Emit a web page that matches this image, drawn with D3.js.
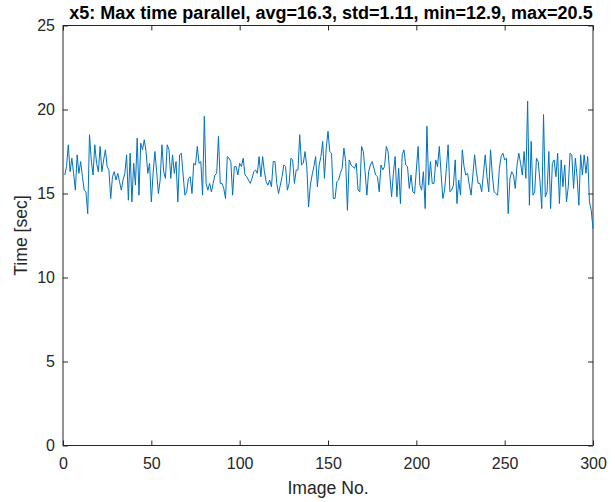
<!DOCTYPE html>
<html>
<head>
<meta charset="utf-8">
<script src="https://cdn.jsdelivr.net/npm/d3@7"></script>
<style>
  html, body { margin: 0; padding: 0; background: #fff; }
  svg { display: block; }
  text { font-family: "Liberation Sans", Arial, Helvetica, sans-serif; fill: #262626; }
</style>
</head>
<body>
<svg id="chart" width="615" height="502"></svg>
<script>
const titleText = "x5: Max time parallel, avg=16.3, std=1.11, min=12.9, max=20.5";
const xLabel = "Image No.";
const yLabel = "Time [sec]";
const xTicks = [0, 50, 100, 150, 200, 250, 300];
const yTicks = [0, 5, 10, 15, 20, 25];
const xDomain = [0, 300];
const yDomain = [0, 25];
const times = [
  16.1,16.6,17.9,16.3,17.1,16.2,15.2,17.3,16.2,16.9,
  16.0,15.2,15.1,13.8,18.5,17.0,16.1,17.9,16.8,16.3,
  17.8,16.3,17.0,17.6,16.6,16.4,14.7,16.0,16.3,15.8,
  16.2,15.7,15.2,15.8,16.2,17.3,14.6,17.4,14.5,16.8,
  15.5,18.3,14.9,18.0,17.6,18.2,17.5,16.2,16.8,14.5,
  16.2,17.5,16.3,15.0,15.8,17.9,16.3,15.9,17.9,17.6,
  15.9,17.3,16.2,16.9,14.5,17.3,17.4,16.1,14.9,15.1,
  15.9,16.0,15.0,16.8,16.7,17.8,16.8,16.9,14.9,19.6,
  15.6,15.2,15.6,15.1,15.6,16.1,16.2,18.4,15.6,15.6,
  15.3,14.7,17.2,17.1,16.9,14.9,16.6,16.6,16.1,16.8,
  16.6,17.1,16.1,16.0,15.8,15.6,15.9,16.3,16.4,16.2,
  17.2,16.0,17.2,16.3,15.7,15.5,15.8,15.4,16.9,16.9,
  15.6,15.0,15.5,16.0,16.7,16.6,15.2,15.6,17.1,17.0,
  15.6,16.4,16.4,18.5,16.7,16.8,17.5,16.6,14.2,15.5,
  16.1,16.6,17.2,15.4,16.7,17.2,18.1,15.9,17.7,18.7,
  17.5,17.4,14.7,14.7,15.7,15.8,16.2,16.5,17.7,16.9,
  14.0,17.0,16.7,16.6,16.5,16.8,15.2,15.1,17.8,17.5,
  16.3,14.9,16.3,16.7,16.9,16.5,16.1,16.0,15.1,16.7,
  16.4,16.6,17.8,17.5,16.1,14.8,16.2,17.2,14.8,16.5,
  14.4,17.3,17.6,16.7,16.6,15.3,16.1,15.1,15.0,16.4,
  17.8,15.5,15.2,16.3,14.1,19.0,15.5,16.9,15.6,15.6,
  17.0,16.6,17.8,16.2,14.7,15.2,16.5,17.9,15.1,15.2,
  15.5,17.0,14.4,15.8,14.9,17.6,16.6,16.1,16.2,15.5,
  14.9,16.1,17.3,16.3,15.6,15.6,15.1,16.2,17.3,16.0,
  15.1,17.6,16.1,15.1,15.0,14.9,16.5,17.2,17.4,17.0,
  17.1,13.8,15.9,16.3,16.1,15.3,16.7,17.4,16.8,16.1,
  17.5,15.9,20.5,14.3,18.1,14.9,15.1,17.1,16.9,15.7,
  14.1,19.7,14.8,15.1,17.5,14.1,16.8,17.0,16.0,17.4,
  14.4,17.0,15.4,16.7,14.5,15.4,17.4,17.3,15.3,17.1,
  16.0,14.3,17.3,16.1,17.3,16.2,17.2,14.5,14.0,12.9
];
const imageNo = times.map((_, i) => i + 1);

const svg = d3.select("#chart");
const m = { left: 63, right: 615 - 593, top: 25.5, bottom: 502 - 445.5 };
const W = 615 - m.left - m.right, H = 502 - m.top - m.bottom;
const g = svg.append("g").attr("transform", `translate(${m.left},${m.top})`);

const x = d3.scaleLinear().domain(xDomain).range([0, W]);
const y = d3.scaleLinear().domain(yDomain).range([H, 0]);

const axisColor = "#262626";
const tickLen = 5;

const xb = g.append("g").attr("transform", `translate(0,${H})`)
  .call(d3.axisBottom(x).tickValues(xTicks).tickSizeInner(-tickLen).tickSizeOuter(0).tickPadding(12));
const xt = g.append("g")
  .call(d3.axisTop(x).tickValues(xTicks).tickSizeInner(-tickLen).tickSizeOuter(0).tickFormat(""));
const yl = g.append("g")
  .call(d3.axisLeft(y).tickValues(yTicks).tickSizeInner(-tickLen).tickSizeOuter(0).tickPadding(8));
const yr = g.append("g").attr("transform", `translate(${W},0)`)
  .call(d3.axisRight(y).tickValues(yTicks).tickSizeInner(-tickLen).tickSizeOuter(0).tickFormat(""));

[xb, xt, yl, yr].forEach(a => {
  a.select(".domain").remove();
  a.selectAll("line").attr("stroke", axisColor).attr("stroke-width", 1);
  a.selectAll("text").attr("font-size", 16).attr("fill", axisColor)
    .style("font-family", '"Liberation Sans", Arial, sans-serif');
});

g.append("rect").attr("x", 0).attr("y", 0).attr("width", W).attr("height", H)
  .attr("fill", "none").attr("stroke", axisColor).attr("stroke-width", 1);

const line = d3.line().x((d, i) => x(imageNo[i])).y(d => y(d));
g.append("path").datum(times)
  .attr("d", line).attr("fill", "none")
  .attr("stroke", "#0072BD").attr("stroke-width", 1).attr("stroke-linejoin", "round");

svg.append("text").attr("x", m.left + W / 2).attr("y", 494)
  .attr("text-anchor", "middle").attr("font-size", 17.6).text(xLabel);
svg.append("text").attr("transform", `translate(27,${m.top + H / 2}) rotate(-90)`)
  .attr("text-anchor", "middle").attr("font-size", 17.6).text(yLabel);
svg.append("text").attr("x", m.left + W / 2 + 3).attr("y", 19)
  .attr("text-anchor", "middle").attr("font-size", 18).attr("font-weight", "bold")
  .style("fill", "#000").text(titleText);
</script>
</body>
</html>
